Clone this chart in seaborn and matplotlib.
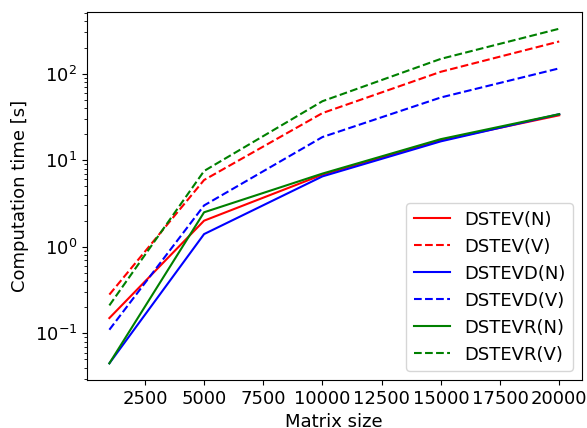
import matplotlib
matplotlib.use("Agg")
import matplotlib.pyplot as plt
import pandas as pd
import seaborn as sns

# timings (seconds)
sizes = [1000, 5000, 10000, 15000, 20000]
dstev_n = [0.15, 2.0, 6.8, 17.0, 33.0]
dstev_v = [0.28, 5.9, 35.0, 105.0, 235.0]
dstevd_n = [0.045, 1.4, 6.5, 16.5, 34.0]
dstevd_v = [0.11, 3.0, 18.5, 53.0, 115.0]
dstevr_n = [0.045, 2.5, 7.0, 17.5, 34.0]
dstevr_v = [0.21, 7.5, 48.0, 148.0, 330.0]

names = ["DSTEV(N)", "DSTEV(V)", "DSTEVD(N)", "DSTEVD(V)", "DSTEVR(N)", "DSTEVR(V)"]
series = [dstev_n, dstev_v, dstevd_n, dstevd_v, dstevr_n, dstevr_v]

rows = []
for name, vals in zip(names, series):
    for n, t in zip(sizes, vals):
        rows.append({"size": n, "time": t, "routine": name})
df = pd.DataFrame(rows)

palette = {"DSTEV(N)": "red", "DSTEV(V)": "red",
           "DSTEVD(N)": "blue", "DSTEVD(V)": "blue",
           "DSTEVR(N)": "green", "DSTEVR(V)": "green"}
dash = (3.7, 1.6)
dashes = {k: ("" if k.endswith("(N)") else dash) for k in names}

plt.rcParams["font.size"] = 13
fig, ax = plt.subplots(figsize=(5.87, 4.28), dpi=100)
sns.lineplot(data=df, x="size", y="time", hue="routine", style="routine",
             hue_order=names, style_order=names, palette=palette, dashes=dashes,
             linewidth=1.5, ax=ax)
ax.set_yscale("log")
ax.set_xlabel("Matrix size")
ax.set_ylabel("Computation time [s]")
ax.legend(loc="lower right", fontsize=13)

fig.subplots_adjust(left=0.148, right=0.991, top=0.972, bottom=0.112)
fig.savefig("out.png", dpi=100)
